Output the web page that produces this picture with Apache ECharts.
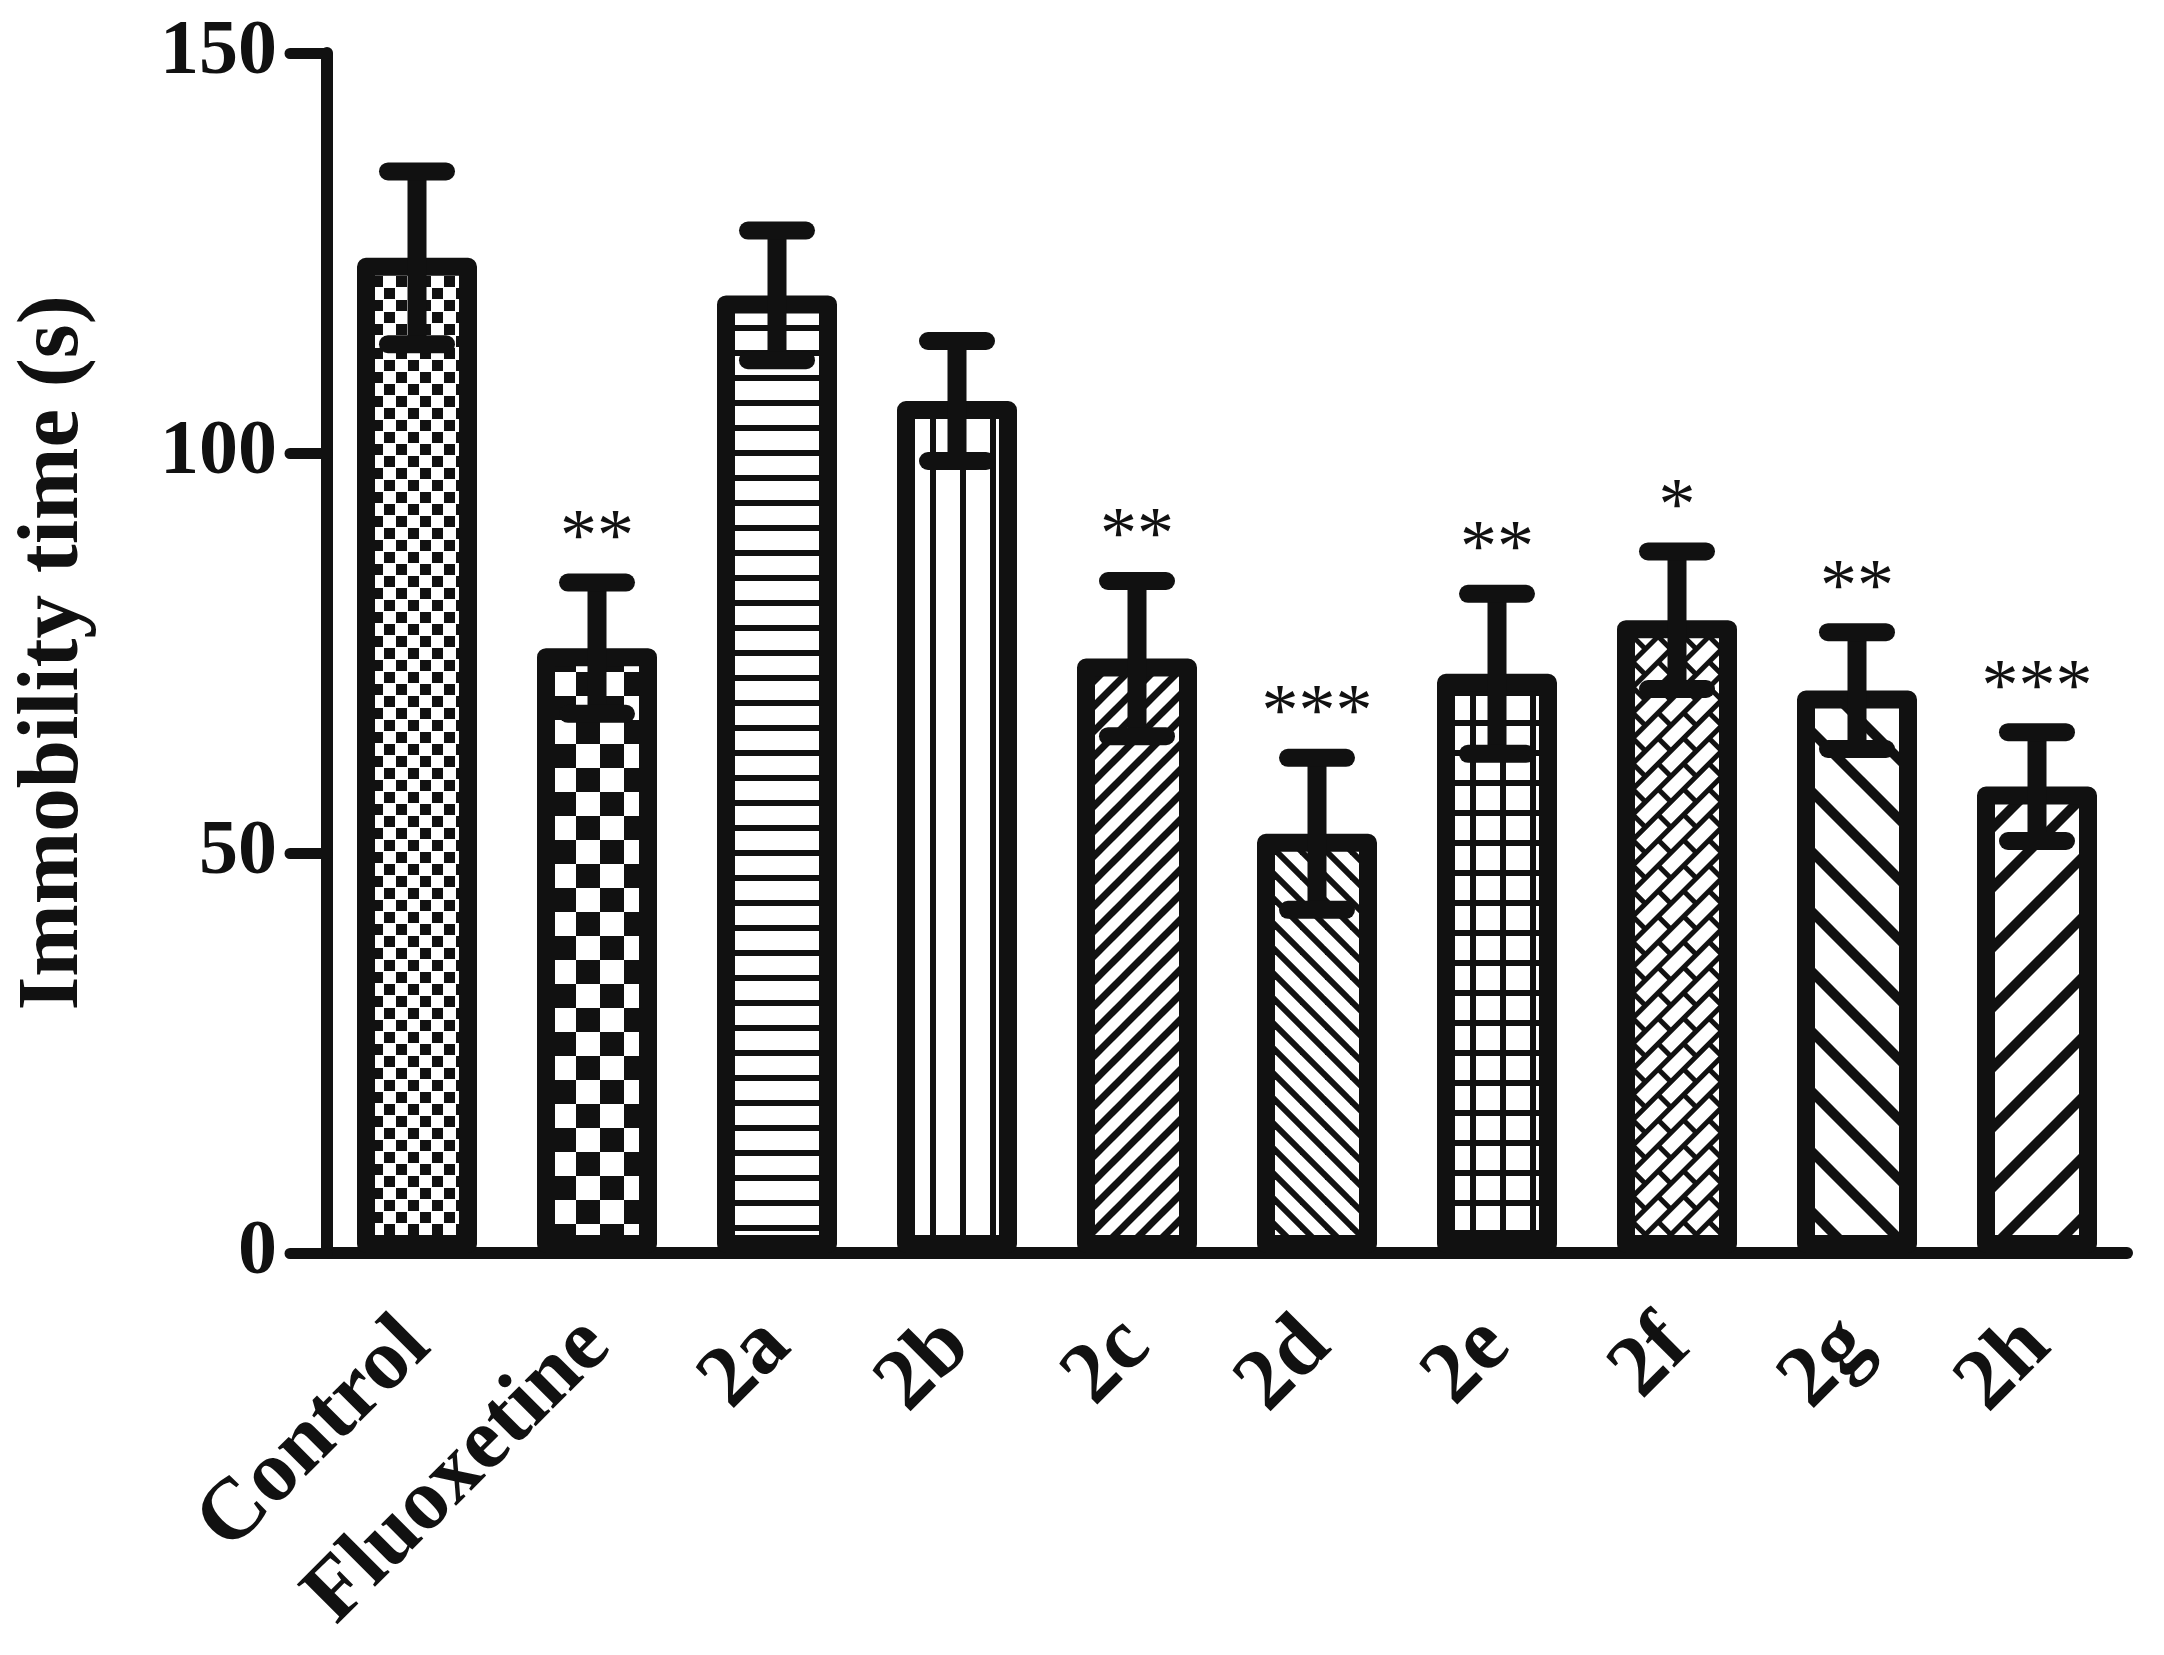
<!DOCTYPE html>
<html>
<head>
<meta charset="utf-8">
<style>
html,body{margin:0;padding:0;background:#fff;}
#chart{width:2164px;height:1655px;}
</style>
<script src="https://cdn.jsdelivr.net/npm/echarts@6/dist/echarts.min.js"></script>
</head>
<body>
<div id="chart"></div>
<script>
const categories = ['Control','Fluoxetine','2a','2b','2c','2d','2e','2f','2g','2h'];
const means = [124.4, 75.6, 119.7, 106.5, 74.3, 52.4, 72.4, 79.1, 70.3, 58.3];
const sems  = [10.8, 8.2, 8.1, 7.5, 9.7, 9.5, 10.0, 8.6, 7.3, 6.8];
const stars = ['', '**', '', '', '**', '***', '**', '*', '**', '***'];
const yTicks = [0, 50, 100, 150];

const INK = '#111111';
const SERIF = '"Liberation Serif", "Times New Roman", serif';

function tile(w, h, draw) {
  const c = document.createElement('canvas');
  c.width = w; c.height = h;
  const ctx = c.getContext('2d');
  ctx.fillStyle = '#ffffff';
  ctx.fillRect(0, 0, w, h);
  ctx.fillStyle = INK;
  ctx.strokeStyle = INK;
  draw(ctx, w, h);
  return c;
}
function diagUp(P, lw) { // "/" lines
  return tile(P, P, (ctx) => {
    ctx.lineWidth = lw;
    [0, P, 2 * P].forEach(c => {
      ctx.beginPath();
      ctx.moveTo(c + lw, -lw);
      ctx.lineTo(-lw, c + lw);
      ctx.stroke();
    });
  });
}
function diagDown(P, lw) { // "\" lines
  return tile(P, P, (ctx) => {
    ctx.lineWidth = lw;
    [-P, 0, P].forEach(c => {
      ctx.beginPath();
      ctx.moveTo(-lw, c - lw);
      ctx.lineTo(P + lw, c + P + lw);
      ctx.stroke();
    });
  });
}
const patterns = [
  { image: tile(24, 24, (ctx) => { ctx.fillRect(0, 0, 11, 11); ctx.fillRect(12, 12, 11, 11); }), repeat: 'repeat' },
  { image: tile(48, 48, (ctx) => { ctx.fillRect(0, 0, 24, 24); ctx.fillRect(24, 24, 24, 24); }), repeat: 'repeat' },
  { image: tile(10, 25, (ctx) => { ctx.fillRect(0, 0, 10, 6); }), repeat: 'repeat' },
  { image: tile(30, 10, (ctx) => { ctx.fillRect(0, 0, 6, 10); }), repeat: 'repeat' },
  { image: diagUp(25, 7), repeat: 'repeat' },
  { image: diagDown(25, 6), repeat: 'repeat' },
  { image: tile(30, 30, (ctx) => { ctx.fillRect(0, 0, 30, 6); ctx.fillRect(0, 0, 6, 30); }), repeat: 'repeat' },
  { image: tile(36, 36, (ctx) => {
      ctx.fillRect(0, 0, 36, 5); ctx.fillRect(0, 18, 36, 5);
      ctx.fillRect(0, 0, 5, 18); ctx.fillRect(18, 18, 5, 18);
    }), repeat: 'repeat', rotation: -Math.PI / 4 },
  { image: diagDown(60, 10), repeat: 'repeat' },
  { image: diagUp(60, 10), repeat: 'repeat' }
];

const barData = means.map((v, i) => ({
  value: v,
  itemStyle: { color: patterns[i], borderColor: INK, borderWidth: 18, borderJoin: 'round' }
}));
const errData = means.map((v, i) => [i, v, sems[i], stars[i]]);

const chart = echarts.init(document.getElementById('chart'), null, { renderer: 'canvas' });
chart.setOption({
  animation: false,
  backgroundColor: '#ffffff',
  grid: { left: 327, right: 37, top: 53, bottom: 402, containLabel: false },
  xAxis: {
    type: 'category',
    data: categories,
    axisLine: { lineStyle: { color: INK, width: 12, cap: 'round' } },
    axisTick: { alignWithLabel: true, length: 37, lineStyle: { color: INK, width: 10, cap: 'round' } },
    axisLabel: {
      interval: 0, rotate: 45, margin: 80,
      color: INK, fontFamily: SERIF, fontWeight: 'bold', fontSize: 87
    }
  },
  yAxis: {
    type: 'value',
    min: yTicks[0], max: yTicks[yTicks.length - 1], interval: 50,
    name: 'Immobility time (s)',
    nameLocation: 'middle',
    nameGap: 229,
    nameTextStyle: { color: INK, fontFamily: SERIF, fontWeight: 'bold', fontSize: 87 },
    splitLine: { show: false },
    axisLine: { show: true, lineStyle: { color: INK, width: 12, cap: 'round' } },
    axisTick: { show: true, length: 37, lineStyle: { color: INK, width: 11, cap: 'round' } },
    axisLabel: { margin: 50, color: INK, fontFamily: SERIF, fontWeight: 'bold', fontSize: 78 }
  },
  series: [
    {
      type: 'bar',
      data: barData,
      barWidth: 120,
      z: 2
    },
    {
      type: 'custom',
      data: errData,
      z: 3,
      encode: { x: 0, y: 1 },
      renderItem: function (params, api) {
        const i = api.value(0), m = api.value(1), e = api.value(2);
        const star = errData[params.dataIndex][3];
        const top = api.coord([i, m + e]);
        const bot = api.coord([i, m - e]);
        const hw = 29;
        const children = [
          { type: 'line', shape: { x1: top[0], y1: top[1], x2: bot[0], y2: bot[1] },
            style: { stroke: INK, lineWidth: 19 } },
          { type: 'line', shape: { x1: top[0] - hw, y1: top[1], x2: top[0] + hw, y2: top[1] },
            style: { stroke: INK, lineWidth: 18, lineCap: 'round' } },
          { type: 'line', shape: { x1: bot[0] - hw, y1: bot[1], x2: bot[0] + hw, y2: bot[1] },
            style: { stroke: INK, lineWidth: 18, lineCap: 'round' } }
        ];
        if (star) {
          children.push({
            type: 'text',
            style: {
              text: star, x: top[0], y: top[1] - 42,
              textAlign: 'center', textVerticalAlign: 'middle',
              font: 'normal 74px ' + SERIF, fill: INK
            }
          });
        }
        return { type: 'group', children: children };
      }
    }
  ]
});
</script>
</body>
</html>
